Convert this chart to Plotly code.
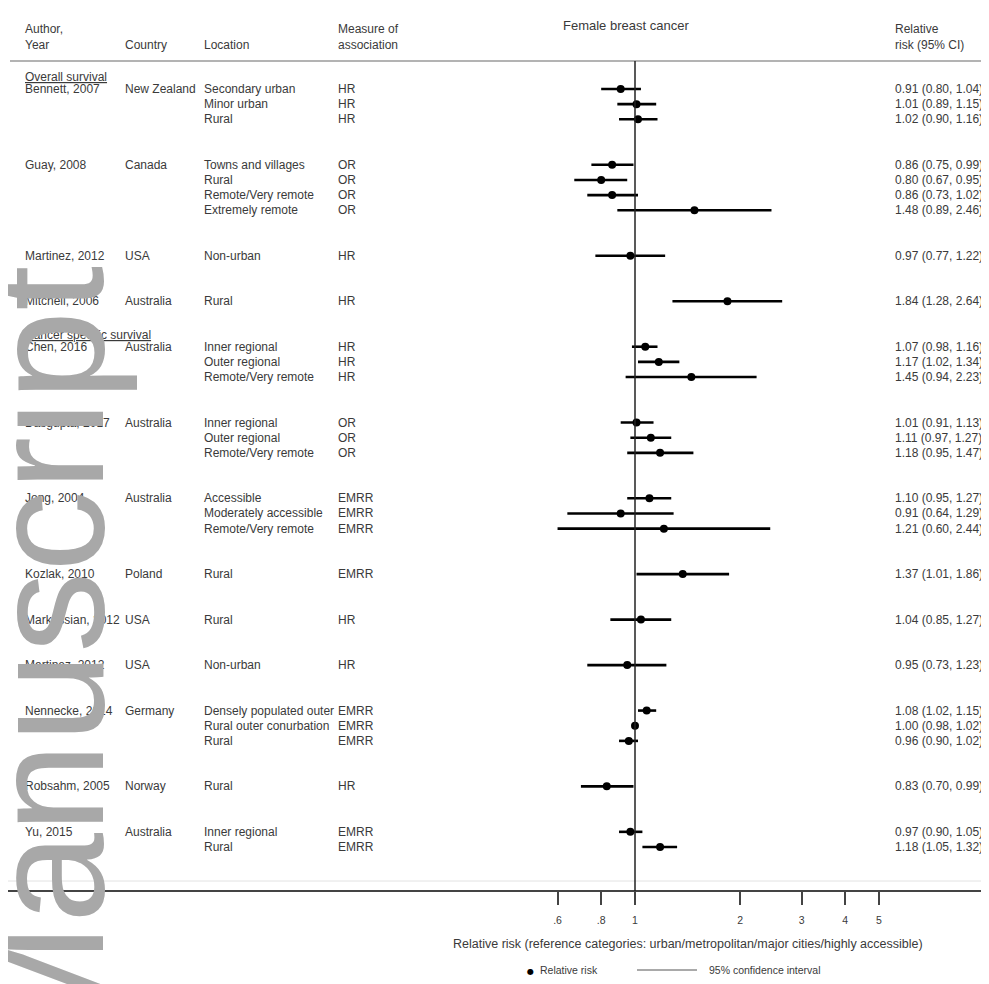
import plotly.graph_objects as go

# ---------------- data ----------------
sections = ["Overall survival", "Cancer specific survival"]
study_section = [0, 0, 0, 0, 1, 1, 1, 1, 1, 1, 1, 1, 1]
authors = ["Bennett, 2007", "Guay, 2008", "Martinez, 2012", "Mitchell, 2006",
           "Chen, 2016", "Dasgupta, 2017", "Jong, 2004", "Kozlak, 2010",
           "Markossian, 2012", "Martinez, 2012", "Nennecke, 2014", "Robsahm, 2005",
           "Yu, 2015"]
countries = ["New Zealand", "Canada", "USA", "Australia", "Australia", "Australia",
             "Australia", "Poland", "USA", "USA", "Germany", "Norway", "Australia"]
locations = [
    ["Secondary urban", "Minor urban", "Rural"],
    ["Towns and villages", "Rural", "Remote/Very remote", "Extremely remote"],
    ["Non-urban"],
    ["Rural"],
    ["Inner regional", "Outer regional", "Remote/Very remote"],
    ["Inner regional", "Outer regional", "Remote/Very remote"],
    ["Accessible", "Moderately accessible", "Remote/Very remote"],
    ["Rural"],
    ["Rural"],
    ["Non-urban"],
    ["Densely populated outer", "Rural outer conurbation", "Rural"],
    ["Rural"],
    ["Inner regional", "Rural"],
]
measures = [
    ["HR", "HR", "HR"],
    ["OR", "OR", "OR", "OR"],
    ["HR"],
    ["HR"],
    ["HR", "HR", "HR"],
    ["OR", "OR", "OR"],
    ["EMRR", "EMRR", "EMRR"],
    ["EMRR"],
    ["HR"],
    ["HR"],
    ["EMRR", "EMRR", "EMRR"],
    ["HR"],
    ["EMRR", "EMRR"],
]
rr = [[0.91, 1.01, 1.02], [0.86, 0.80, 0.86, 1.48], [0.97], [1.84],
      [1.07, 1.17, 1.45], [1.01, 1.11, 1.18], [1.10, 0.91, 1.21], [1.37], [1.04],
      [0.95], [1.08, 1.00, 0.96], [0.83], [0.97, 1.18]]
ci_low = [[0.80, 0.89, 0.90], [0.75, 0.67, 0.73, 0.89], [0.77], [1.28],
          [0.98, 1.02, 0.94], [0.91, 0.97, 0.95], [0.95, 0.64, 0.60], [1.01], [0.85],
          [0.73], [1.02, 0.98, 0.90], [0.70], [0.90, 1.05]]
ci_high = [[1.04, 1.15, 1.16], [0.99, 0.95, 1.02, 2.46], [1.22], [2.64],
           [1.16, 1.34, 2.23], [1.13, 1.27, 1.47], [1.27, 1.29, 2.44], [1.86], [1.27],
           [1.23], [1.15, 1.02, 1.02], [0.99], [1.05, 1.32]]
tick_vals = [0.6, 0.8, 1, 2, 3, 4, 5]
tick_text = [".6", ".8", "1", "2", "3", "4", "5"]

# ---------------- layout constants (screen pixels) ----------------
OFF = 8                      # page body margin
SCREEN_W, SCREEN_H = 989, 984
W, H = SCREEN_W - OFF, SCREEN_H - OFF
AXIS_Y = 891                 # screen y of x-axis line
PLOT_BOTTOM = AXIS_Y - OFF   # figure px
X_ONE = 635                  # screen x of RR = 1
PX_PER_DECADE = 349.1
ROW0 = 89                    # screen y of first data row
ROW_PITCH = 15.16
FONT = "Liberation Sans, Arial, sans-serif"
TXT = "#3a3a3a"

x_range = [-(X_ONE - OFF) / PX_PER_DECADE, (W - (X_ONE - OFF)) / PX_PER_DECADE]
y_range = [(PLOT_BOTTOM - (ROW0 - OFF)) / ROW_PITCH, -(ROW0 - OFF) / ROW_PITCH]


def px(xs):
    return (xs - OFF) / W


def py(ys):
    return (PLOT_BOTTOM - (ys - OFF)) / PLOT_BOTTOM


def txt(size=12, color=TXT):
    return dict(size=size, color=color, family=FONT)


# ---------------- build rows ----------------
row_y, row_rr, row_lo, row_hi = [], [], [], []
annotations = []
col_author, col_country, col_loc, col_meas, col_rr = 23, 123, 202, 336, 893
r = 0
last_section = None
for i, a in enumerate(authors):
    if study_section[i] != last_section:
        last_section = study_section[i]
        annotations.append(dict(x=px(col_author), y=r - 0.8, xref="paper", yref="y",
                                text="<u>" + sections[last_section] + "</u>",
                                showarrow=False, xanchor="left", yanchor="middle",
                                font=txt()))
    annotations.append(dict(x=px(col_author), y=r, xref="paper", yref="y", text=a,
                            showarrow=False, xanchor="left", yanchor="middle",
                            font=txt()))
    annotations.append(dict(x=px(col_country), y=r, xref="paper", yref="y",
                            text=countries[i], showarrow=False, xanchor="left",
                            yanchor="middle", font=txt()))
    for j, loc in enumerate(locations[i]):
        yy = r + j
        row_y.append(yy)
        row_rr.append(rr[i][j])
        row_lo.append(ci_low[i][j])
        row_hi.append(ci_high[i][j])
        annotations.append(dict(x=px(col_loc), y=yy, xref="paper", yref="y", text=loc,
                                showarrow=False, xanchor="left", yanchor="middle",
                                font=txt()))
        annotations.append(dict(x=px(col_meas), y=yy, xref="paper", yref="y",
                                text=measures[i][j], showarrow=False, xanchor="left",
                                yanchor="middle", font=txt()))
        annotations.append(dict(x=px(col_rr), y=yy, xref="paper", yref="y",
                                text=f"{rr[i][j]:.2f} ({ci_low[i][j]:.2f}, {ci_high[i][j]:.2f})",
                                showarrow=False, xanchor="left", yanchor="middle",
                                font=txt()))
    r += len(locations[i]) + 2

ci_x, ci_y = [], []
for yy, lo_, hi_ in zip(row_y, row_lo, row_hi):
    ci_x += [lo_, hi_, None]
    ci_y += [yy, yy, None]

fig = go.Figure()
fig.add_trace(go.Scatter(x=ci_x, y=ci_y, mode="lines", name="95% confidence interval",
                         line=dict(color="black", width=2.6), showlegend=False,
                         hoverinfo="skip"))
fig.add_trace(go.Scatter(x=row_rr, y=row_y, mode="markers", name="Relative risk",
                         marker=dict(color="black", size=8), showlegend=False))

# headers
for x_, y_, t_ in [(col_author, 37, "Author,<br>Year"), (col_country, 45, "Country"),
                   (col_loc, 45, "Location"), (col_meas, 37, "Measure of<br>association"),
                   (col_rr, 37, "Relative<br>risk (95% CI)")]:
    annotations.append(dict(x=px(x_), y=py(y_), xref="paper", yref="paper", text=t_,
                            align="left", showarrow=False, xanchor="left",
                            yanchor="middle", font=txt()))
annotations.append(dict(x=px(626), y=py(25), xref="paper", yref="paper",
                        text="Female breast cancer", showarrow=False, xanchor="center",
                        yanchor="middle", font=txt(13)))
# axis title
annotations.append(dict(x=px(688), y=py(944), xref="paper", yref="paper",
                        text="Relative risk (reference categories: urban/metropolitan/major cities/highly accessible)",
                        showarrow=False, xanchor="center", yanchor="middle",
                        font=txt(12.5)))
# legend (custom)
annotations.append(dict(x=px(530), y=py(971), xref="paper", yref="paper", text="●",
                        showarrow=False, xanchor="center", yanchor="middle",
                        font=dict(size=8, color="black", family="DejaVu Sans")))
annotations.append(dict(x=px(538), y=py(970), xref="paper", yref="paper",
                        text="Relative risk", showarrow=False, xanchor="left",
                        yanchor="middle", font=txt(10.5)))
annotations.append(dict(x=px(707), y=py(970), xref="paper", yref="paper",
                        text="95% confidence interval", showarrow=False, xanchor="left",
                        yanchor="middle", font=txt(10.5)))
# watermark
annotations.append(dict(x=px(46), y=py(662), xref="paper", yref="paper",
                        text="Manuscript", textangle=-90, showarrow=False,
                        xanchor="center", yanchor="middle",
                        font=dict(size=162, color="#a8a8a8", family=FONT)))

shapes = [
    dict(type="line", xref="paper", yref="paper", x0=px(10), x1=1, y0=py(61), y1=py(61),
         line=dict(color="#9a9a9a", width=1.5)),
    dict(type="line", xref="paper", yref="paper", x0=px(8), x1=1, y0=py(881), y1=py(881),
         line=dict(color="#e2e2e2", width=1)),
    dict(type="line", xref="paper", yref="paper", x0=px(8), x1=1,
         y0=py(AXIS_Y), y1=py(AXIS_Y), line=dict(color="#444444", width=2)),
    dict(type="line", xref="x", yref="paper", x0=1, x1=1, y0=py(61), y1=py(AXIS_Y),
         line=dict(color="#222222", width=1.5)),
    dict(type="line", xref="paper", yref="paper", x0=px(637), x1=px(697),
         y0=py(970), y1=py(970), line=dict(color="#555555", width=1)),
]

fig.update_layout(
    width=W, height=H,
    margin=dict(l=0, r=0, t=0, b=H - PLOT_BOTTOM, pad=0),
    paper_bgcolor="white", plot_bgcolor="white",
    showlegend=False,
    xaxis=dict(type="log", range=x_range, domain=[0, 1], showgrid=False,
               zeroline=False, showline=False, ticks="outside", ticklen=13,
               tickwidth=1.5, tickcolor="#444444", tickvals=tick_vals,
               ticktext=tick_text, ticklabelstandoff=6,
               tickfont=txt(10.5)),
    yaxis=dict(range=y_range, visible=False, showgrid=False, zeroline=False),
    annotations=annotations,
    shapes=shapes,
)

fig.write_html("out.html")
